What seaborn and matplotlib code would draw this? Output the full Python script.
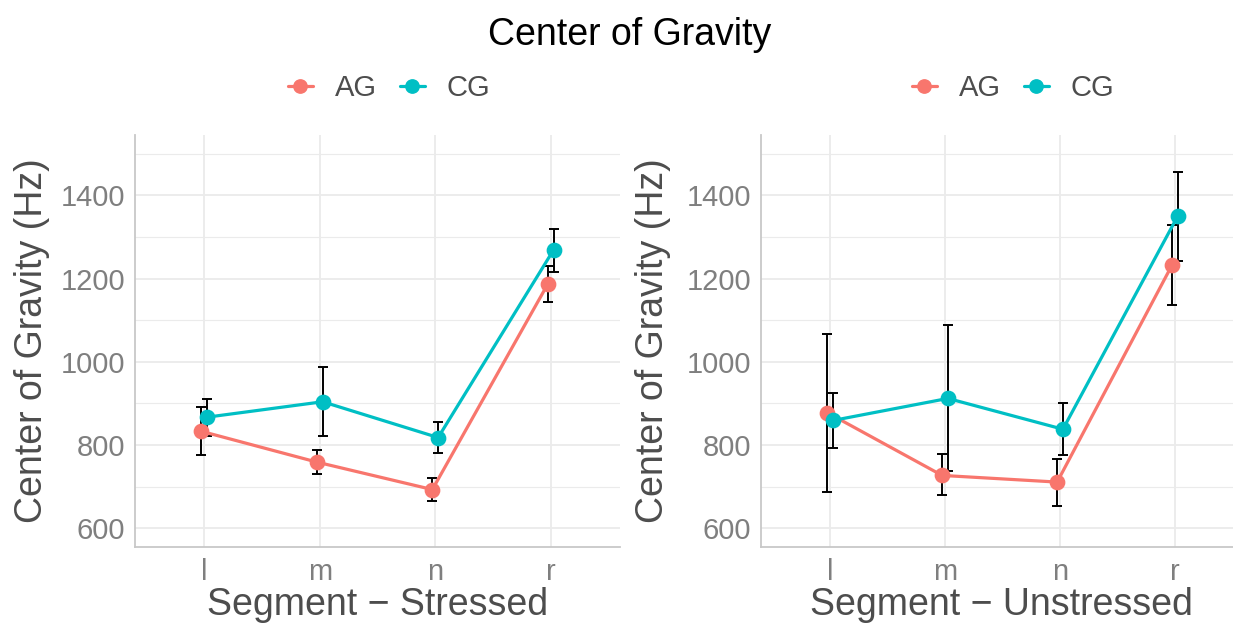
import numpy as np
import pandas as pd
import matplotlib
matplotlib.use("Agg")
import matplotlib.pyplot as plt
import seaborn as sns
from matplotlib.lines import Line2D
from matplotlib.ticker import FixedLocator

# ---------------- data ----------------
segments = ["l", "m", "n", "r"]
groups = ["AG", "CG"]

stressed_AG = [833, 759, 693, 1187]
stressed_AG_lo = [777, 731, 666, 1143]
stressed_AG_hi = [891, 788, 720, 1231]
stressed_CG = [867, 904, 818, 1269]
stressed_CG_lo = [822, 821, 782, 1217]
stressed_CG_hi = [911, 987, 856, 1320]

unstressed_AG = [878, 727, 711, 1233]
unstressed_AG_lo = [688, 679, 653, 1137]
unstressed_AG_hi = [1068, 778, 766, 1329]
unstressed_CG = [859, 912, 838, 1351]
unstressed_CG_lo = [792, 737, 775, 1243]
unstressed_CG_hi = [925, 1088, 900, 1457]

y_major = [600, 800, 1000, 1200, 1400]
y_minor = [700, 900, 1100, 1300, 1500]

palette = {"AG": "#F8766D", "CG": "#00BFC4"}


def make_df(ag, ag_lo, ag_hi, cg, cg_lo, cg_hi):
    rows = []
    for g, m, lo, hi in (("AG", ag, ag_lo, ag_hi), ("CG", cg, cg_lo, cg_hi)):
        for s, v, l, h in zip(segments, m, lo, hi):
            rows.append({"Segment": s, "Group": g, "CoG": v, "lo": l, "hi": h})
    return pd.DataFrame(rows)


df_s = make_df(stressed_AG, stressed_AG_lo, stressed_AG_hi,
               stressed_CG, stressed_CG_lo, stressed_CG_hi)
df_u = make_df(unstressed_AG, unstressed_AG_lo, unstressed_AG_hi,
               unstressed_CG, unstressed_CG_lo, unstressed_CG_hi)

# ---------------- style ----------------
sns.set_style("white")
plt.rcParams["font.family"] = ["Liberation Sans", "DejaVu Sans"]
plt.rcParams["axes.unicode_minus"] = True

W, H = 1233, 625
fig = plt.figure(figsize=(W / 100, H / 100), dpi=100)

DODGE = 0.05
TICK_COLOR = "#7F7F7F"
LABEL_COLOR = "#4D4D4D"
GRID_COLOR = "#EBEBEB"
MS = 9.6
LW = 2.3


def draw_panel(ax, df, xlabel, xlim_right, ylabel_x, xlabel_x):
    n = len(groups)
    for gi, g in enumerate(groups):
        sub = df[df["Group"] == g].set_index("Segment").loc[segments]
        offset = -DODGE / 2 + gi * DODGE / (n - 1)
        xs = np.arange(len(segments)) + offset
        ax.errorbar(xs, sub["CoG"].values,
                    yerr=[sub["CoG"].values - sub["lo"].values,
                          sub["hi"].values - sub["CoG"].values],
                    fmt="none", ecolor="black", elinewidth=1.4,
                    capsize=3.7, capthick=1.4, zorder=1.5)
    sns.pointplot(data=df, x="Segment", y="CoG", hue="Group",
                  order=segments, hue_order=groups, palette=palette,
                  dodge=DODGE, errorbar=None, markers="o",
                  markersize=MS, linewidth=LW, legend=False, ax=ax)

    ax.set_xlim(-0.6, xlim_right)
    ax.set_ylim(555, 1545)
    ax.yaxis.set_major_locator(FixedLocator(y_major))
    ax.yaxis.set_minor_locator(FixedLocator(y_minor))
    ax.grid(False)
    ax.grid(True, which="major", axis="both", color=GRID_COLOR, lw=1.3, zorder=0)
    ax.grid(True, which="minor", axis="y", color=GRID_COLOR, lw=0.8, zorder=0)
    ax.set_axisbelow(True)

    for side in ("top", "right"):
        ax.spines[side].set_visible(False)
    for side in ("left", "bottom"):
        ax.spines[side].set_visible(True)
        ax.spines[side].set_color("#C8C8C8")
        ax.spines[side].set_linewidth(1.3)

    ax.tick_params(axis="both", which="both", length=0, labelsize=21,
                   labelcolor=TICK_COLOR)
    ax.tick_params(axis="y", pad=7)
    ax.tick_params(axis="x", pad=8)

    ax.set_ylabel("Center of Gravity (Hz)", fontsize=27, color=LABEL_COLOR)
    ax.set_xlabel(xlabel, fontsize=27, color=LABEL_COLOR)
    ax.yaxis.set_label_coords(ylabel_x, 0.5)
    ax.xaxis.set_label_coords(xlabel_x, -0.098)


axL = fig.add_axes([135 / W, 1 - 547 / H, 485 / W, 412 / H])
axR = fig.add_axes([761 / W, 1 - 547 / H, (W - 761) / W, 412 / H])

draw_panel(axL, df_s, "Segment \u2212 Stressed", 3.6, -0.175, 0.5)
draw_panel(axR, df_u, "Segment \u2212 Unstressed", 3.504, -0.19, 0.51)

fig.text(630 / W, 1 - 35 / H, "Center of Gravity", fontsize=27,
         color="black", ha="center", va="center")

handles = [Line2D([0], [0], color=palette[g], marker="o", lw=LW,
                  markersize=MS) for g in groups]
for cx in (389, 1013):
    fig.legend(handles, groups, loc="center", bbox_to_anchor=(cx / W, 1 - 88 / H),
               ncol=2, frameon=False, fontsize=21, handlelength=0.85,
               handletextpad=0.75, columnspacing=0.8, labelcolor=LABEL_COLOR)

fig.savefig("out.png", dpi=100)
